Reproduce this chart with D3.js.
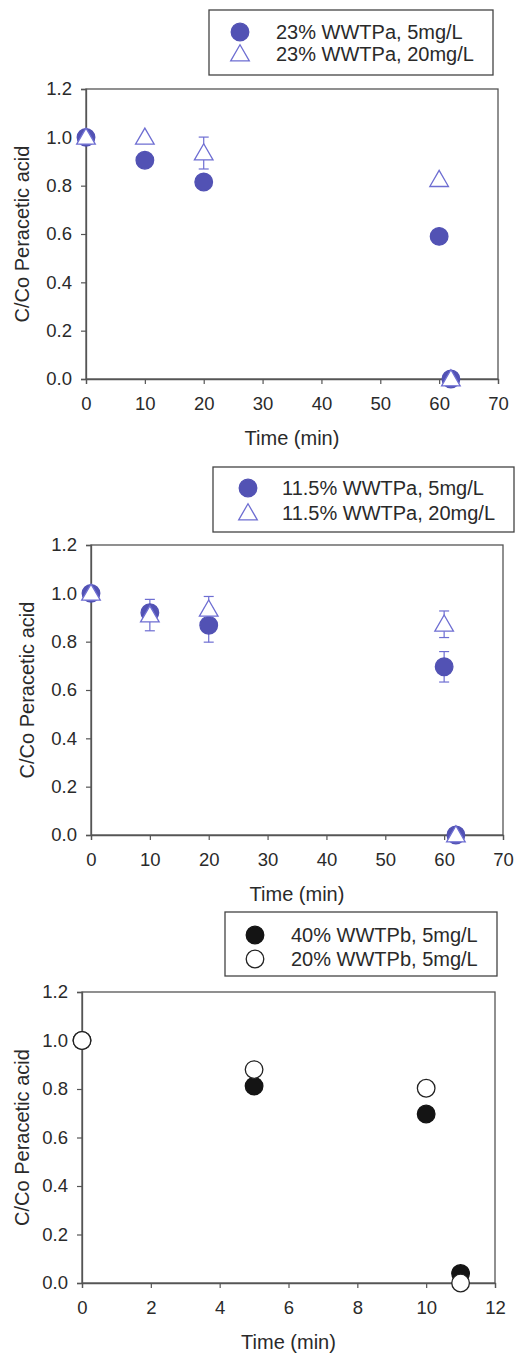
<!DOCTYPE html>
<html>
<head>
<meta charset="utf-8">
<script src="https://cdn.jsdelivr.net/npm/d3@7"></script>
<style>
  body { margin: 0; background: #fff; }
  svg { display: block; font-family: 'Liberation Sans', Arial, sans-serif; }
</style>
</head>
<body>
<div id="chart"></div>
<script>
// ---- data ----
// panel 1: 23% WWTPa
const p1Time5 = [0, 10, 20, 60, 62];
const p1Val5 = [1.0, 0.905, 0.815, 0.59, 0.0];
const p1Err5 = [0, 0, 0, 0, 0];
const p1Time20 = [0, 10, 20, 60, 62];
const p1Val20 = [1.0, 1.0, 0.935, 0.825, 0.0];
const p1Err20 = [0, 0, 0.066, 0, 0];

// panel 2: 11.5% WWTPa
const p2Time5 = [0, 10, 20, 60, 62];
const p2Val5 = [1.0, 0.92, 0.868, 0.696, 0.0];
const p2Err5 = [0, 0.03, 0.07, 0.063, 0];
const p2Time20 = [0, 10, 20, 60, 62];
const p2Val20 = [1.0, 0.91, 0.934, 0.872, 0.0];
const p2Err20 = [0, 0.065, 0.053, 0.055, 0];

// panel 3: WWTPb
const p3Time40 = [0, 5, 10, 11];
const p3Val40 = [1.0, 0.812, 0.697, 0.039];
const p3Time20 = [0, 5, 10, 11];
const p3Val20 = [1.0, 0.88, 0.803, 0.0];

const yTicks = [0, 0.2, 0.4, 0.6, 0.8, 1.0, 1.2];
const xTicks70 = [0, 10, 20, 30, 40, 50, 60, 70];
const xTicks12 = [0, 2, 4, 6, 8, 10, 12];

const legend1 = ['23% WWTPa, 5mg/L', '23% WWTPa, 20mg/L'];
const legend2 = ['11.5% WWTPa, 5mg/L', '11.5% WWTPa, 20mg/L'];
const legend3 = ['40% WWTPb, 5mg/L', '20% WWTPb, 5mg/L'];

// ---- styles ----
const Purple = '#5252b4';
const PurpleLight = '#6e6ed2';
const AxisGray = '#555';
const TextColor = '#2a2a2a';

const zip = (xs, ys, es) => xs.map((x, i) => ({ x, y: ys[i], e: es ? es[i] : 0 }));

const panels = [
  {
    frame: { left: 86, right: 498, top: 89, bottom: 379 },
    xMax: 70, xTicks: xTicks70, titleX: 22,
    legend: { x0: 209, x1: 493, y0: 10, y1: 75, sym: 240, text: 276, rows: [32, 54], labels: legend1 },
    series: [
      { data: zip(p1Time5, p1Val5, p1Err5), shape: 'circle', fill: Purple, stroke: Purple, err: PurpleLight },
      { data: zip(p1Time20, p1Val20, p1Err20), shape: 'triangle', fill: '#fff', stroke: PurpleLight, err: PurpleLight },
    ],
  },
  {
    frame: { left: 91, right: 503, top: 545, bottom: 835 },
    xMax: 70, xTicks: xTicks70, titleX: 27,
    legend: { x0: 213, x1: 514, y0: 467, y1: 532, sym: 248, text: 282, rows: [488, 513], labels: legend2 },
    series: [
      { data: zip(p2Time5, p2Val5, p2Err5), shape: 'circle', fill: Purple, stroke: Purple, err: PurpleLight },
      { data: zip(p2Time20, p2Val20, p2Err20), shape: 'triangle', fill: '#fff', stroke: PurpleLight, err: PurpleLight },
    ],
  },
  {
    frame: { left: 82, right: 495, top: 992, bottom: 1283 },
    xMax: 12, xTicks: xTicks12, titleX: 22,
    legend: { x0: 225, x1: 497, y0: 912, y1: 976, sym: 255, text: 291, rows: [935, 959], labels: legend3 },
    series: [
      { data: zip(p3Time40, p3Val40), shape: 'circle', fill: '#141414', stroke: '#141414', err: '#141414' },
      { data: zip(p3Time20, p3Val20), shape: 'circle', fill: '#fff', stroke: '#222', err: '#222' },
    ],
  },
];

const width = 516;
const height = 1353;

const svg = d3
  .select('#chart')
  .append('svg')
  .attr('width', width)
  .attr('height', height)
  .attr('viewBox', '0 0 ' + width + ' ' + height);

const circleSym = d3.symbol().type(d3.symbolCircle).size(Math.PI * 8.8 * 8.8);
const triSym = d3.symbol().type(d3.symbolTriangle).size(150);

function marker(g, shape, fill, stroke) {
  return g
    .append('path')
    .attr('d', shape === 'circle' ? circleSym() : triSym())
    .attr('fill', fill)
    .attr('stroke', stroke)
    .attr('stroke-width', 1.3);
}

panels.forEach((p) => {
  const f = p.frame;
  const x = d3.scaleLinear().domain([0, p.xMax]).range([f.left, f.right]);
  const y = d3.scaleLinear().domain([0, 1.2]).range([f.bottom, f.top]);

  const g = svg.append('g');

  // frame (top and right, no ticks)
  g.append('rect')
    .attr('x', f.left)
    .attr('y', f.top)
    .attr('width', f.right - f.left)
    .attr('height', f.bottom - f.top)
    .attr('fill', 'none')
    .attr('stroke', AxisGray)
    .attr('stroke-width', 1.3);

  // axes
  const xAxis = g
    .append('g')
    .attr('transform', `translate(0,${f.bottom})`)
    .call(d3.axisBottom(x).tickValues(p.xTicks).tickFormat(d3.format('d')).tickSize(5).tickPadding(13));
  const yAxis = g
    .append('g')
    .attr('transform', `translate(${f.left},0)`)
    .call(d3.axisLeft(y).tickValues(yTicks).tickFormat(d3.format('.1f')).tickSize(5).tickPadding(9));

  [xAxis, yAxis].forEach((a) => {
    a.select('.domain').attr('stroke', AxisGray).attr('stroke-width', 1.3);
    a.selectAll('.tick line').attr('stroke', AxisGray).attr('stroke-width', 1.2);
    a.selectAll('.tick text')
      .attr('fill', TextColor)
      .style('font-size', '18.5px');
  });

  // axis titles
  g.append('text')
    .attr('x', (f.left + f.right) / 2)
    .attr('y', f.bottom + 66)
    .attr('text-anchor', 'middle')
    .attr('fill', TextColor)
    .style('font-size', '20px')
    .text('Time (min)');

  g.append('text')
    .attr('transform', `translate(${p.titleX},${(f.top + f.bottom) / 2}) rotate(-90)`)
    .attr('text-anchor', 'middle')
    .attr('dy', '0.35em')
    .attr('fill', TextColor)
    .style('font-size', '20px')
    .text('C/Co Peracetic acid');

  // error bars + markers
  p.series.forEach((s) => {
    const eb = g.append('g');
    s.data
      .filter((d) => d.e > 0)
      .forEach((d) => {
        const cx = x(d.x);
        const yt = y(d.y + d.e);
        const yb = y(d.y - d.e);
        eb.append('line').attr('x1', cx).attr('x2', cx).attr('y1', yt).attr('y2', yb);
        eb.append('line').attr('x1', cx - 5).attr('x2', cx + 5).attr('y1', yt).attr('y2', yt);
        eb.append('line').attr('x1', cx - 5).attr('x2', cx + 5).attr('y1', yb).attr('y2', yb);
      });
    eb.selectAll('line').attr('stroke', s.err).attr('stroke-width', 1.2);
  });

  p.series.forEach((s) => {
    g.append('g')
      .selectAll('path')
      .data(s.data)
      .join('path')
      .attr('transform', (d) => `translate(${x(d.x)},${y(d.y) + (s.shape === 'triangle' ? 1.5 : 0)})`)
      .attr('d', s.shape === 'circle' ? circleSym() : triSym())
      .attr('fill', s.fill)
      .attr('stroke', s.stroke)
      .attr('stroke-width', 1.3);
  });

  // legend
  const L = p.legend;
  const lg = g.append('g');
  lg.append('rect')
    .attr('x', L.x0)
    .attr('y', L.y0)
    .attr('width', L.x1 - L.x0)
    .attr('height', L.y1 - L.y0)
    .attr('fill', '#fff')
    .attr('stroke', '#444')
    .attr('stroke-width', 1.3);

  p.series.forEach((s, i) => {
    marker(lg, s.shape, s.fill, s.stroke).attr(
      'transform',
      `translate(${L.sym},${L.rows[i] + (s.shape === 'triangle' ? 1.5 : 0)})`
    );
    lg.append('text')
      .attr('x', L.text)
      .attr('y', L.rows[i])
      .attr('dy', '0.35em')
      .attr('fill', TextColor)
      .style('font-size', '20px')
      .text(L.labels[i]);
  });
});
</script>
</body>
</html>
